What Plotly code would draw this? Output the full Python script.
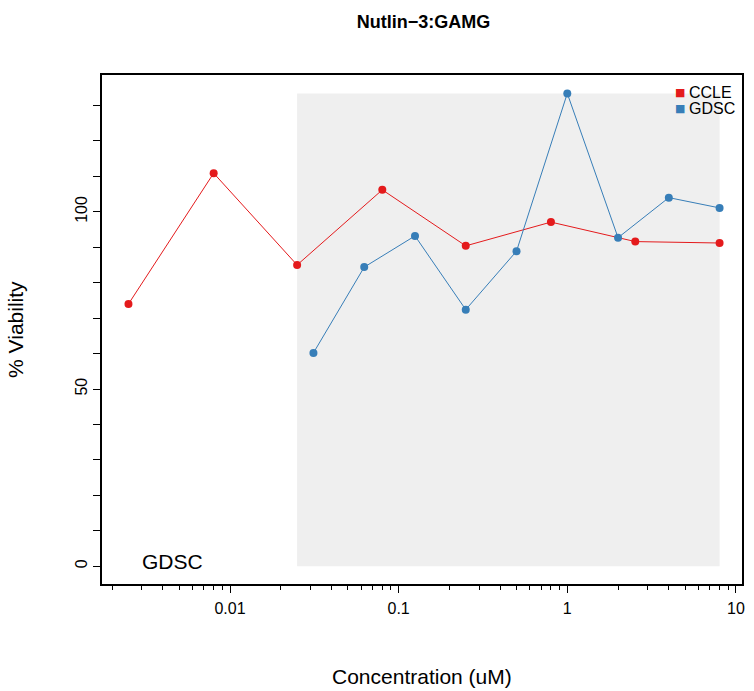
import numpy as np
import plotly.graph_objects as go

# ---- data ----
title = "Nutlin\u22123:GAMG"
x_label = "Concentration (uM)"
y_label = "% Viability"
ccle_conc = [0.0025, 0.008, 0.025, 0.08, 0.25, 0.8, 2.53, 8]
ccle_viab = [74.0, 110.9, 85.0, 106.2, 90.4, 97.1, 91.6, 91.2]
gdsc_conc = [0.03125, 0.0625, 0.125, 0.25, 0.5, 1, 2, 4, 8]
gdsc_viab = [60.2, 84.4, 93.2, 72.4, 88.9, 133.4, 92.7, 104.0, 101.1]
shade_conc = [0.025, 8]
legend_names = ["CCLE", "GDSC"]
x_tickvals = [0.01, 0.1, 1, 10]
x_ticktext = ["0.01", "0.1", "1", "10"]
y_tickvals = list(range(0, 140, 10))
y_ticktext = [str(v) if v % 50 == 0 else "" for v in y_tickvals]
x_minor = [m * 10.0 ** e for e in (-3, -2, -1, 0) for m in range(2, 10)]

RED = "#E41A1C"
BLUE = "#377EB8"
FONT = "Liberation Sans, Arial, sans-serif"

W, H = 754, 691
L, R, T, B = 102, 9, 75, 107
PW, PH = W - L - R, H - T - B

ymax = max(gdsc_viab)
fig = go.Figure()

# shaded GDSC range
sx = [shade_conc[0], shade_conc[1], shade_conc[1], shade_conc[0], shade_conc[0]]
sy = [0, 0, ymax, ymax, 0]
fig.add_trace(go.Scatter(x=sx, y=sy, mode="lines", fill="toself",
                         fillcolor="#EFEFEF", line=dict(width=0),
                         hoverinfo="skip", showlegend=False))

fig.add_trace(go.Scatter(x=ccle_conc, y=ccle_viab, mode="lines+markers",
                         line=dict(color=RED, width=1),
                         marker=dict(color=RED, size=8), showlegend=False))
fig.add_trace(go.Scatter(x=gdsc_conc, y=gdsc_viab, mode="lines+markers",
                         line=dict(color=BLUE, width=1),
                         marker=dict(color=BLUE, size=8), showlegend=False))

annotations = [
    dict(text="GDSC", xref="paper", yref="paper",
         x=0.110, y=0.045, xanchor="center", yanchor="middle",
         showarrow=False, font=dict(size=21, family=FONT)),
    dict(text=x_label, xref="paper", yref="paper",
         x=0.5, y=-92 / PH, xanchor="center", yanchor="middle",
         showarrow=False, font=dict(size=21, family=FONT)),
    dict(text=y_label, xref="paper", yref="paper", textangle=-90,
         x=-87 / PW, y=0.5, xanchor="center", yanchor="middle",
         showarrow=False, font=dict(size=21, family=FONT)),
]
# legend (top-right, inside plot)
for i, (name, col) in enumerate(zip(legend_names, (RED, BLUE))):
    yy = 1 - (17 + 17 * i) / PH
    annotations.append(dict(text="\u25A0", xref="paper", yref="paper",
                            x=580.5 / PW, y=yy, xanchor="center", yanchor="middle",
                            showarrow=False,
                            font=dict(size=11, family="DejaVu Sans", color=col)))
    annotations.append(dict(text=name, xref="paper", yref="paper",
                            x=588 / PW, y=yy, xanchor="left", yanchor="middle",
                            showarrow=False, font=dict(size=16, family=FONT)))

fig.update_layout(
    width=W, height=H,
    margin=dict(l=L, r=R, t=T, b=B),
    paper_bgcolor="white", plot_bgcolor="white",
    font=dict(family=FONT, color="black"),
    title=dict(text="<b>" + title + "</b>", x=(L + PW / 2) / W, xanchor="center",
               y=1 - 22 / H, yanchor="middle",
               font=dict(size=18, family=FONT)),
    showlegend=False,
    annotations=annotations,
)

fig.update_xaxes(
    type="log", range=[-2.759, 1.036],
    tickmode="array", tickvals=x_tickvals, ticktext=x_ticktext,
    ticks="outside", ticklen=7, tickwidth=1, tickcolor="black",
    tickfont=dict(size=16), showgrid=False, zeroline=False,
    ticklabeloverflow="allow", ticklabelstandoff=2,
    showline=True, linecolor="black", linewidth=2, mirror=True,
    minor=dict(tickmode="array", tickvals=x_minor, ticks="outside",
               ticklen=4, tickwidth=1, tickcolor="black", showgrid=False),
)
fig.update_yaxes(
    range=[-5.0, 138.6],
    tickmode="array", tickvals=y_tickvals, ticktext=y_ticktext,
    ticks="outside", ticklen=7, tickwidth=1, tickcolor="black",
    tickangle=-90, tickfont=dict(size=16), showgrid=False, zeroline=False,
    showline=True, linecolor="black", linewidth=2, mirror=True,
)

fig.write_html(
    "out.html",
    config={"displayModeBar": False},
    post_script="document.body.style.margin='0';document.body.style.overflow='hidden';",
)
